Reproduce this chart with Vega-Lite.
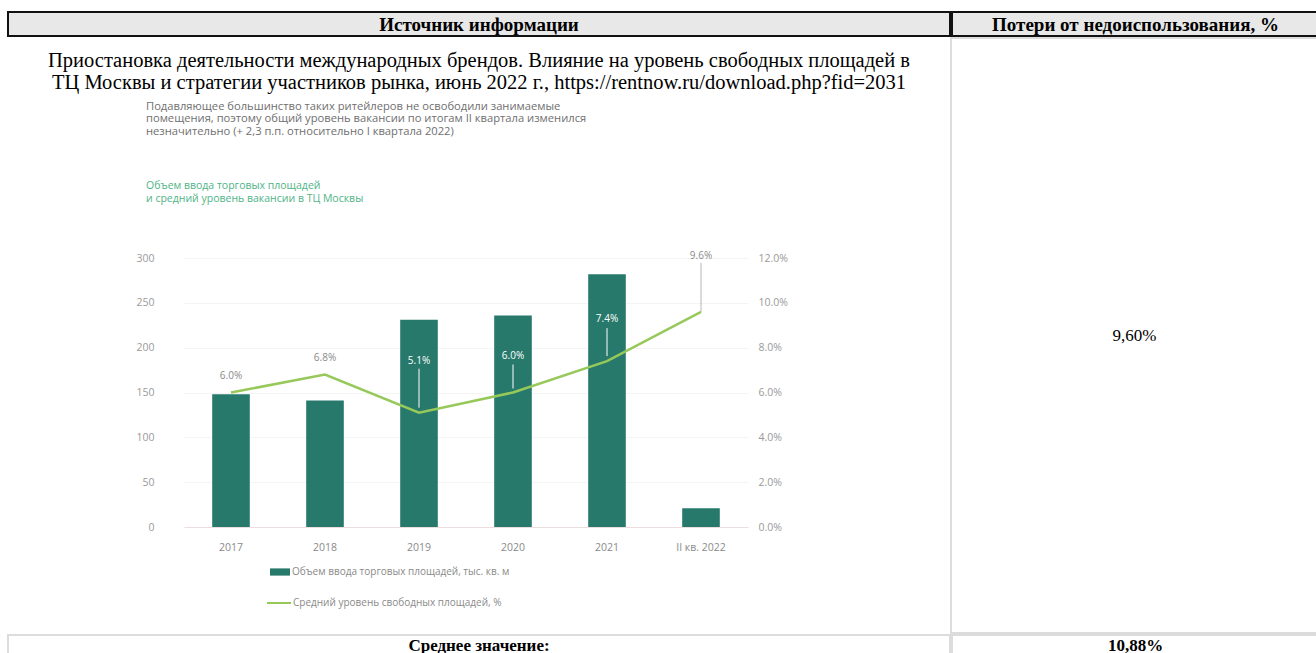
{
  "$schema": "https://vega.github.io/schema/vega-lite/v6.json",
  "padding": {"left": 7, "top": 11, "right": 0, "bottom": 0},
  "background": "white",
  "spacing": 0,
  "resolve": {"scale": {"fill": "independent", "stroke": "independent"}},
  "config": {
    "view": {"stroke": null},
    "text": {"font": "Liberation Serif"}
  },
  "vconcat": [
    {
      "spacing": 0,
      "hconcat": [
        {
          "width": 942, "height": 24,
          "view": {"fill": "#e8e8e8", "stroke": "#111", "strokeWidth": 2},
          "data": {"values": [{"t": "Источник информации"}]},
          "mark": {"type": "text", "font": "Liberation Serif", "fontSize": 19, "fontWeight": "bold", "color": "black", "dy": 1},
          "encoding": {"text": {"field": "t"}}
        },
        {
          "width": 367, "height": 24,
          "view": {"fill": "#e8e8e8", "stroke": "#111", "strokeWidth": 2},
          "data": {"values": [{"t": "Потери от недоиспользования, %"}]},
          "mark": {"type": "text", "font": "Liberation Serif", "fontSize": 19, "fontWeight": "bold", "color": "black", "dy": 1},
          "encoding": {"text": {"field": "t"}}
        }
      ]
    },
    {
      "spacing": 0,
      "resolve": {"scale": {"fill": "independent", "stroke": "independent"}},
      "hconcat": [
        {
          "spacing": 0,
          "resolve": {"scale": {"fill": "independent", "stroke": "independent"}},
          "vconcat": [
            {
              "width": 942, "height": 62,
              "data": {"values": [{"t": "Приостановка деятельности международных брендов. Влияние на уровень свободных площадей в\nТЦ Москвы и стратегии участников рынка, июнь 2022 г., https://rentnow.ru/download.php?fid=2031"}]},
              "mark": {"type": "text", "font": "Liberation Serif", "fontSize": 20.5, "lineBreak": "\n", "lineHeight": 21.5, "dy": -8, "color": "black"},
              "encoding": {"text": {"field": "t"}}
            },
            {
              "spacing": 0,
              "resolve": {"scale": {"fill": "independent", "stroke": "independent"}},
              "hconcat": [
                {
                  "width": 127, "height": 10,
                  "data": {"values": []},
                  "mark": {"type": "text"},
                  "encoding": {}
                },
                {
                  "width": 564, "height": 269,
                  "view": {"stroke": null},
                  "title": {
                    "text": ["Подавляющее большинство таких ритейлеров не освободили занимаемые", "помещения, поэтому общий уровень вакансии по итогам II квартала изменился", "незначительно (+ 2,3 п.п. относительно I квартала 2022)"],
                    "subtitle": ["Объем ввода торговых площадей", "и средний уровень вакансии в ТЦ Москвы"],
                    "anchor": "start", "frame": "group", "dx": -38,
                    "font": "Open Sans", "fontSize": 11.2, "fontWeight": "normal", "color": "#6f6f6f", "lineHeight": 12.5,
                    "subtitleFont": "Open Sans", "subtitleFontSize": 10.5, "subtitleColor": "#4fb487", "subtitleLineHeight": 13.5, "subtitlePadding": 44,
                    "offset": 46
                  },
                  "data": {"values": [
                    {"period": "2017", "volume": 148, "pct": 0.060},
                    {"period": "2018", "volume": 141, "pct": 0.068},
                    {"period": "2019", "volume": 231, "pct": 0.051},
                    {"period": "2020", "volume": 236, "pct": 0.060},
                    {"period": "2021", "volume": 282, "pct": 0.074},
                    {"period": "II кв. 2022", "volume": 21, "pct": 0.096}
                  ]},
                  "encoding": {
                    "x": {"field": "period", "type": "nominal", "sort": null, "title": null,
                      "scale": {"paddingInner": 0.6, "paddingOuter": 0.3},
                      "axis": {"labelAngle": 0, "labelFont": "Open Sans", "labelFontSize": 10.5, "labelColor": "#8a8a8a", "labelPadding": 15, "ticks": false, "domainColor": "#ecdede", "domainWidth": 1}}
                  },
                  "layer": [
                    {
                      "mark": {"type": "bar", "strokeWidth": 0},
                      "encoding": {
                        "y": {"field": "volume", "type": "quantitative", "title": null,
                          "scale": {"domain": [0, 300]},
                          "axis": {"orient": "left", "values": [0, 50, 100, 150, 200, 250, 300], "labelFont": "Open Sans", "labelFontSize": 10.5, "labelColor": "#9a9a9a", "labelPadding": 30, "ticks": false, "domain": false, "grid": true, "gridColor": "#f4f4f4"}},
                        "fill": {"datum": "Объем ввода торговых площадей, тыс. кв. м", "scale": {"range": ["#27796c"]},
                          "legend": {"orient": "none", "legendX": 86, "legendY": 304, "title": null, "padding": 0, "symbolType": "M-1,-0.36L1,-0.36L1,0.36L-1,0.36Z", "symbolSize": 400, "symbolStrokeWidth": 0, "labelFont": "Open Sans", "labelFontSize": 10, "labelColor": "#8a8a8a", "labelOffset": 2, "labelLimit": 400}}
                      }
                    },
                    {
                      "encoding": {
                        "y": {"field": "pct", "type": "quantitative", "title": null,
                          "scale": {"domain": [0, 0.12]},
                          "axis": {"orient": "right", "values": [0, 0.02, 0.04, 0.06, 0.08, 0.1, 0.12], "format": ".1%", "labelFont": "Open Sans", "labelFontSize": 10.5, "labelColor": "#9a9a9a", "labelPadding": 10, "ticks": false, "domain": false, "grid": false}}
                      },
                      "layer": [
                        {
                          "mark": {"type": "line", "interpolate": "linear", "strokeWidth": 2.5},
                          "encoding": {
                            "stroke": {"datum": "Средний уровень свободных площадей, %", "scale": {"range": ["#97c95a"]},
                              "legend": {"orient": "none", "legendX": 82, "legendY": 332, "title": null, "padding": 0, "symbolType": "stroke", "symbolSize": 576, "symbolStrokeWidth": 2, "labelFont": "Open Sans", "labelFontSize": 10, "labelColor": "#8a8a8a", "labelOffset": 1, "labelLimit": 400}}
                          }
                        },
                        {
                          "transform": [{"filter": "datum.period == '2019'"}],
                          "mark": {"type": "rule", "color": "white", "strokeWidth": 1, "yOffset": -5, "y2Offset": -44},
                          "encoding": {"y2": {"field": "pct"}}
                        },
                        {
                          "transform": [{"filter": "datum.period == '2020'"}],
                          "mark": {"type": "rule", "color": "white", "strokeWidth": 1, "yOffset": -4, "y2Offset": -28},
                          "encoding": {"y2": {"field": "pct"}}
                        },
                        {
                          "transform": [{"filter": "datum.period == '2021'"}],
                          "mark": {"type": "rule", "color": "white", "strokeWidth": 1, "yOffset": -5, "y2Offset": -33},
                          "encoding": {"y2": {"field": "pct"}}
                        },
                        {
                          "transform": [{"filter": "datum.period == 'II кв. 2022'"}],
                          "mark": {"type": "rule", "color": "#b5b5b5", "strokeWidth": 1, "yOffset": 0, "y2Offset": -49},
                          "encoding": {"y2": {"field": "pct"}}
                        },
                        {
                          "transform": [{"filter": "datum.period == '2017' || datum.period == '2018'"}],
                          "mark": {"type": "text", "font": "Open Sans", "fontSize": 10, "color": "#8a8a8a", "dy": -17},
                          "encoding": {"text": {"field": "pct", "format": ".1%"}}
                        },
                        {
                          "transform": [{"filter": "datum.period == '2019'"}],
                          "mark": {"type": "text", "font": "Open Sans", "fontSize": 10, "color": "white", "dy": -52},
                          "encoding": {"text": {"field": "pct", "format": ".1%"}}
                        },
                        {
                          "transform": [{"filter": "datum.period == '2020'"}],
                          "mark": {"type": "text", "font": "Open Sans", "fontSize": 10, "color": "white", "dy": -37},
                          "encoding": {"text": {"field": "pct", "format": ".1%"}}
                        },
                        {
                          "transform": [{"filter": "datum.period == '2021'"}],
                          "mark": {"type": "text", "font": "Open Sans", "fontSize": 10, "color": "white", "dy": -42},
                          "encoding": {"text": {"field": "pct", "format": ".1%"}}
                        },
                        {
                          "transform": [{"filter": "datum.period == 'II кв. 2022'"}],
                          "mark": {"type": "text", "font": "Open Sans", "fontSize": 10, "color": "#8a8a8a", "dy": -56},
                          "encoding": {"text": {"field": "pct", "format": ".1%"}}
                        }
                      ]
                    }
                  ],
                  "resolve": {"scale": {"y": "independent"}}
                }
              ]
            }
          ]
        },
        {
          "width": 367, "height": 595,
          "view": {"stroke": "#dcdcdc", "strokeWidth": 2},
          "data": {"values": [{"t": "9,60%"}]},
          "mark": {"type": "text", "font": "Liberation Serif", "fontSize": 17, "color": "black"},
          "encoding": {"text": {"field": "t"}}
        }
      ]
    },
    {
      "spacing": 0,
      "hconcat": [
        {
          "width": 942, "height": 22,
          "view": {"stroke": "#dcdcdc", "strokeWidth": 2},
          "data": {"values": [{"t": "Среднее значение:"}]},
          "mark": {"type": "text", "font": "Liberation Serif", "fontSize": 17, "fontWeight": "bold", "color": "black", "dy": 0},
          "encoding": {"text": {"field": "t"}}
        },
        {
          "width": 367, "height": 22,
          "view": {"stroke": "#dcdcdc", "strokeWidth": 2},
          "data": {"values": [{"t": "10,88%"}]},
          "mark": {"type": "text", "font": "Liberation Serif", "fontSize": 17, "fontWeight": "bold", "color": "black", "dy": 0},
          "encoding": {"text": {"field": "t"}}
        }
      ]
    }
  ]
}
